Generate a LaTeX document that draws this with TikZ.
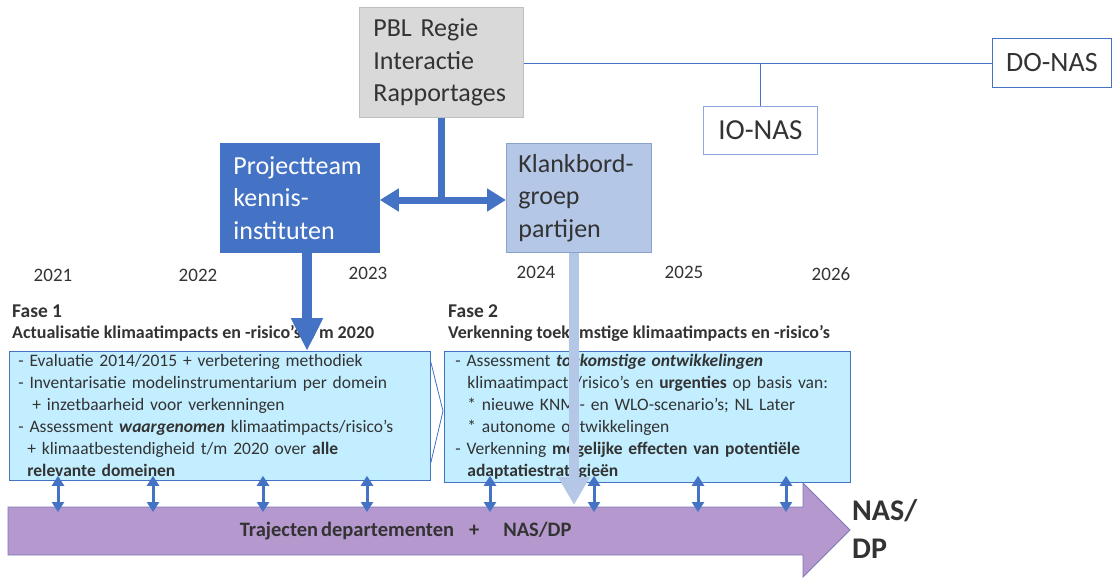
\documentclass[tikz,border=0pt]{standalone}
\usepackage{fontspec}
\setmainfont{Carlito}
\usetikzlibrary{arrows.meta,calc}

\definecolor{accentblue}{HTML}{4472C4}
\definecolor{paleblue}{HTML}{B4C7E7}
\definecolor{greybox}{HTML}{D9D9D9}
\definecolor{greyline}{HTML}{BFBFBF}
\definecolor{phasefill}{HTML}{C3EEFF}
\definecolor{trackfill}{HTML}{B598CD}
\definecolor{trackline}{HTML}{7E78B8}
\definecolor{inkgrey}{HTML}{333333}
\definecolor{ionasline}{HTML}{8EA9DB}

\tikzset{
  orgbox/.style={draw, line width=0.8pt, anchor=north west, align=left,
    inner ysep=0pt, font=\fontsize{26}{32.5}\selectfont},
  phasebox/.style={draw=accentblue, line width=0.8pt, fill=phasefill,
    anchor=north west, align=left, inner ysep=0pt, text=inkgrey,
    font=\fontsize{17.5}{22}\selectfont},
  yearlabel/.style={text=inkgrey, font=\fontsize{19}{22}\selectfont, inner sep=0pt},
  phasetitle/.style={anchor=west, text=inkgrey, inner sep=0pt, font=\bfseries\fontsize{19.5}{22}\selectfont},
  phasesub/.style={anchor=west, text=inkgrey, inner sep=0pt, font=\bfseries\fontsize{18}{22}\selectfont},
  linkarrow/.style={accentblue, line width=3pt,
    {Triangle[length=10pt,width=12pt]}-{Triangle[length=10pt,width=12pt]}},
  feedarrow/.style={line width=10pt, -{Triangle[length=33pt,width=30pt]}},
  thinlink/.style={accentblue, line width=0.9pt}
}

\begin{document}
\begin{tikzpicture}[x=1pt, y=-1pt]
\useasboundingbox (0,0) rectangle (1112,578);

% --- organisation boxes ---
\node[orgbox, draw=greyline, fill=greybox, text=inkgrey, inner xsep=14pt,
      text width=136pt, minimum height=110pt] (pbl) at (359,7)
  {\rule{0pt}{4pt}PBL Regie\\Interactie\\Rapportages};
\node[orgbox, draw=accentblue, fill=accentblue, text=white, inner xsep=13pt,
      text width=133pt, minimum height=109pt] (proj) at (220,143)
  {Projectteam\\kennis-\\instituten};
\node[orgbox, draw=ionasline!80!gray, fill=paleblue, text=inkgrey, inner xsep=12pt,
      text width=121pt, minimum height=109pt] (klank) at (506,143)
  {Klankbord-\\groep\\partijen};
\node[orgbox, draw=accentblue, fill=white, text=inkgrey, inner xsep=13pt,
      minimum width=119pt, minimum height=49pt, font=\fontsize{28}{32}\selectfont] (donas) at (992,38)
  {DO-NAS};
\node[orgbox, draw=ionasline, fill=white, text=inkgrey, inner xsep=13pt,
      minimum width=114pt, minimum height=48pt, font=\fontsize{29}{32}\selectfont] (ionas) at (703,106)
  {IO-NAS};

% thin reporting lines
\draw[thinlink] (pbl.east |- 0,63) -- (donas.west |- 0,63);
\draw[thinlink] (ionas.north) -- (ionas.north |- 0,63);

% PBL feeding both groups
\coordinate (split) at (pbl.south |- 0,200);
\draw[accentblue, line width=7pt] (pbl.south) -- ($(split)+(0,3.5)$);
\draw[accentblue, line width=7pt,
      {Triangle[length=19pt,width=22pt]}-{Triangle[length=19pt,width=22pt]}]
  (proj.east |- split) -- (klank.west |- split);

% --- years ---
\node[yearlabel] (y2021) at (53,275) {2021};
\node[yearlabel] (y2022) at (198,275) {2022};
\node[yearlabel] (y2023) at (368,273) {2023};
\node[yearlabel] (y2024) at (536,272) {2024};
\node[yearlabel] (y2025) at (684,272) {2025};
\node[yearlabel] (y2026) at (831,274) {2026};

% --- phase titles ---
\node[phasetitle] (f1title) at (12,311) {Fase 1};
\node[phasesub] (f1sub) at (12,333) {Actualisatie klimaatimpacts en -risico’s t/m 2020};
\node[phasetitle] (f2title) at (448,311) {Fase 2};
\node[phasesub] (f2sub) at (448,333) {Verkenning toekomstige klimaatimpacts en -risico’s};

% --- phase boxes ---
\node[phasebox, inner xsep=9pt, text width=403pt, minimum height=129pt] (fase1) at (9,351)
  {- Evaluatie 2014/2015 + verbetering methodiek\\
   - Inventarisatie modelinstrumentarium per domein\\
   \hspace*{14pt}+ inzetbaarheid voor verkenningen\\
   - Assessment \textbf{\textit{waargenomen}} klimaatimpacts/risico’s\\
   \hspace*{9pt}+ klimaatbestendigheid t/m 2020 over \textbf{alle}\\
   \hspace*{9pt}\textbf{relevante domeinen}};
\node[phasebox, inner xsep=11pt, text width=384pt, minimum height=131pt] (fase2) at (444,351)
  {- Assessment \textbf{\textit{toekomstige ontwikkelingen}}\\
   \hspace*{12pt}klimaatimpacts/risico’s en \textbf{urgenties} op basis van:\\
   \hspace*{12pt}* nieuwe KNMI- en WLO-scenario’s; NL Later\\
   \hspace*{12pt}* autonome ontwikkelingen\\
   - Verkenning \textbf{mogelijke effecten van potentiële}\\
   \hspace*{12pt}\textbf{adaptatiestrategieën}};

% chevron between the phases
\draw[accentblue, line width=0.8pt] ($(fase1.north east)+(0,11)$) -- (443,411) -- ($(fase1.south east)+(0,-18)$);

% --- policy track arrow ---
\fill[trackfill, draw=trackline, line width=0.8pt]
  (8,507) -- (803,507) -- (803,483) -- (850,530) -- (803,577) -- (803,555) -- (8,555) -- cycle;
\node[anchor=north west, minimum width=795pt, minimum height=48pt, inner sep=0pt,
      text=inkgrey, font=\bfseries\fontsize{20.5}{22}\selectfont] (track) at (8,507)
  {Trajecten\hspace{3pt}departementen\hspace{15pt}+\hspace{24pt}NAS/DP};
\node[anchor=west, align=left, inner sep=0pt, text=inkgrey,
      font=\bfseries\fontsize{30}{38}\selectfont] (nasdp) at (852,529) {NAS/\\DP};

% down arrows from the groups into the phases
\draw[feedarrow, accentblue] (proj.south -| 307,0) -- (fase1.north -| 307,0);
\draw[feedarrow, paleblue, -{Triangle[length=28pt,width=30pt]}]
  (klank.south -| 574,0) -- ($(track.north -| 574,0)+(0,-2)$);

% two-way links between phases and track
\foreach \x in {58,153,263,367}
  \draw[linkarrow] ($(fase1.south -| \x,0)+(0,-5)$) -- ($(track.north -| \x,0)+(0,5)$);
\foreach \x in {490,594,698,786}
  \draw[linkarrow] ($(fase2.south -| \x,0)+(0,-7)$) -- ($(track.north -| \x,0)+(0,5)$);

\end{tikzpicture}
\end{document}
